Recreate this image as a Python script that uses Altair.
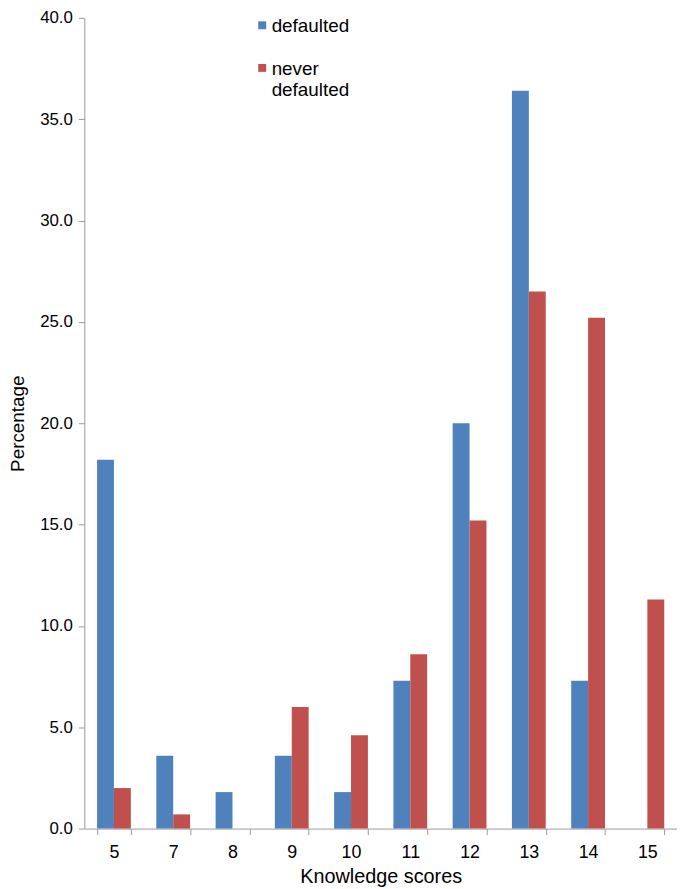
import altair as alt
import pandas as pd

scores = ["5", "7", "8", "9", "10", "11", "12", "13", "14", "15"]
defaulted = [18.2, 3.6, 1.8, 3.6, 1.8, 7.3, 20.0, 36.4, 7.3, 0.0]
never_defaulted = [2.0, 0.7, 0.0, 6.0, 4.6, 8.6, 15.2, 26.5, 25.2, 11.3]
series = ["defaulted", "never defaulted"]
colors = ["#4F81BD", "#C0504D"]

rows = []
for s, d, n in zip(scores, defaulted, never_defaulted):
    rows.append({"score": s, "group": series[0], "pct": d})
    rows.append({"score": s, "group": series[1], "pct": n})
df = pd.DataFrame(rows)

FONT = "Liberation Sans"
AXIS_COLOR = "#9a9a9a"

chart = (
    alt.Chart(df)
    .mark_bar()
    .encode(
        x=alt.X(
            "score:N",
            sort=scores,
            scale=alt.Scale(paddingInner=0.43, paddingOuter=0.215),
            axis=alt.Axis(
                title="Knowledge scores",
                labelAngle=0,
                tickBand="extent",
                tickSize=6,
                labelPadding=9,
                titlePadding=5,
                labelFontSize=18,
                titleFontSize=20,
                titleFontWeight="normal",
            ),
        ),
        xOffset=alt.XOffset("group:N", sort=series, scale=alt.Scale(paddingInner=0, paddingOuter=0)),
        y=alt.Y(
            "pct:Q",
            scale=alt.Scale(domain=[0, 40], nice=False),
            axis=alt.Axis(
                title="Percentage",
                values=[0, 5, 10, 15, 20, 25, 30, 35, 40],
                format=".1f",
                tickSize=6,
                labelPadding=6,
                titlePadding=12,
                labelFontSize=17,
                titleFontSize=19,
                titleFontWeight="normal",
                grid=False,
            ),
        ),
        color=alt.Color(
            "group:N",
            sort=series,
            scale=alt.Scale(domain=series, range=colors),
            legend=alt.Legend(
                title=None,
                orient="none",
                legendX=170,
                legendY=-10,
                symbolType="M-1,1H1V3H-1Z",
                symbolSize=64,
                symbolStrokeWidth=0,
                labelBaseline="top",
                labelFontSize=19,
                labelOffset=0,
                rowPadding=14,
                padding=0,
                labelExpr="datum.label == 'never defaulted' ? ['never', 'defaulted'] : datum.label",
            ),
        ),
    )
    .properties(
        width=598,
        height=818,
        autosize=alt.AutoSizeParams(type="none"),
        padding={"left": 77, "top": 6, "right": 0, "bottom": 57},
    )
    .configure(font=FONT)
    .configure_view(stroke=None)
    .configure_axis(
        domainColor=AXIS_COLOR,
        tickColor=AXIS_COLOR,
        labelColor="#000000",
        titleColor="#000000",
        labelFont=FONT,
        titleFont=FONT,
    )
    .configure_legend(labelFont=FONT, labelColor="#000000", labelLimit=300)
)

chart.save("out.html", embed_options={"renderer": "svg", "actions": False})
